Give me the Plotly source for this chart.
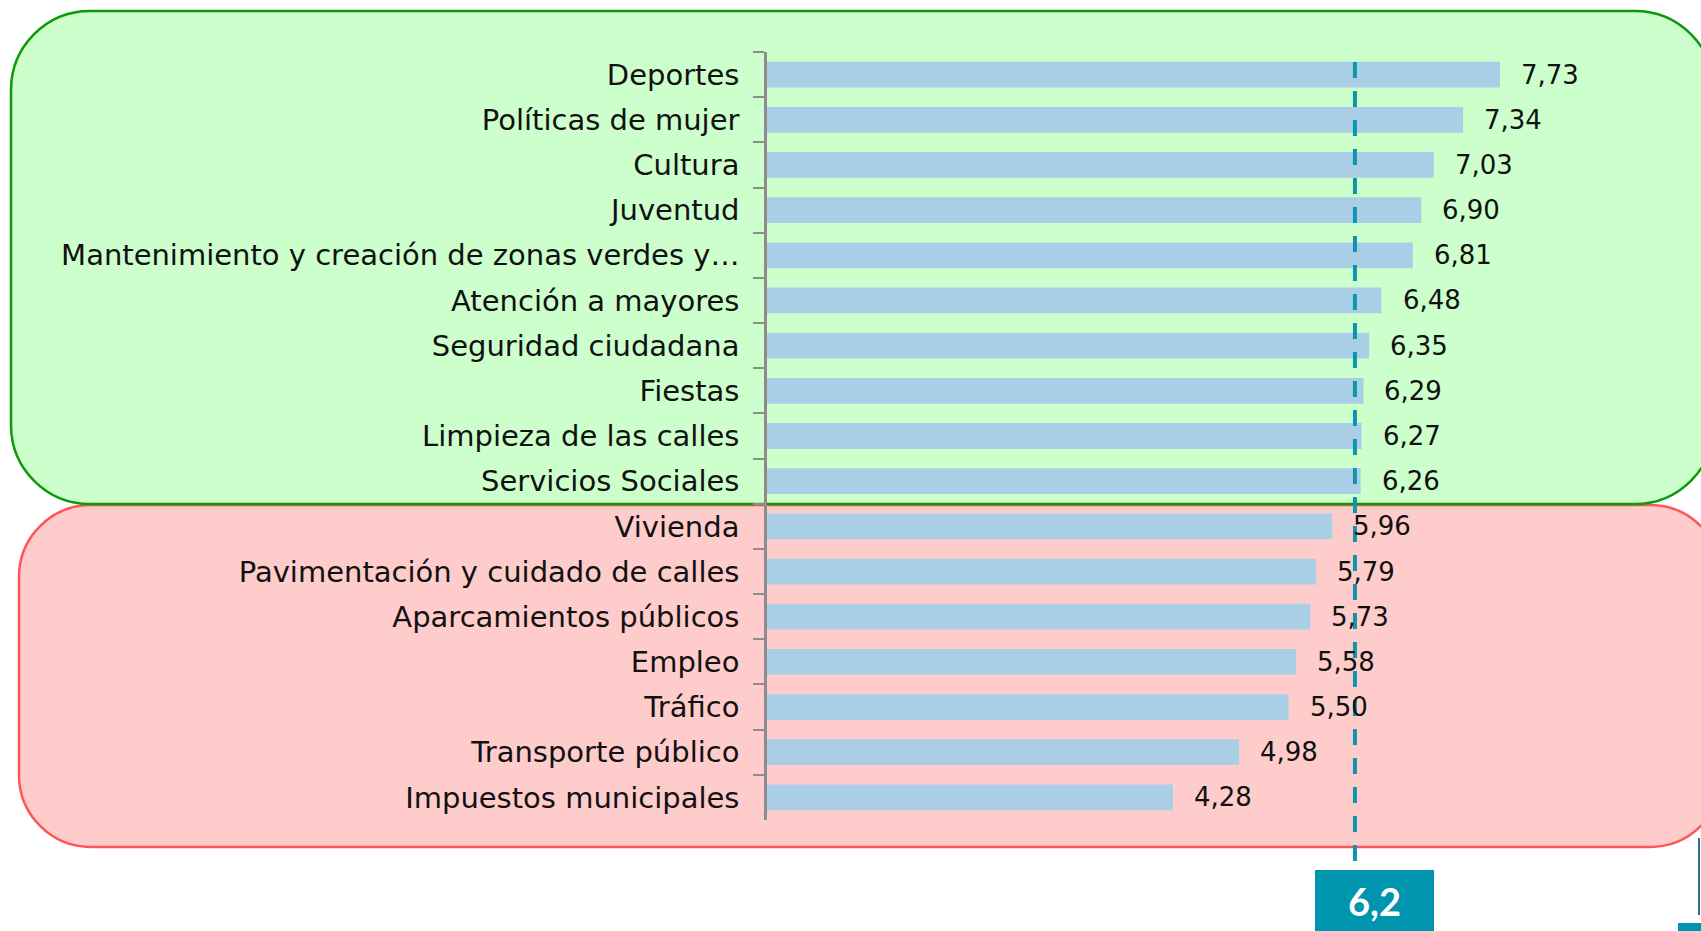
import plotly.graph_objects as go

W, H = 1701, 931
OFF = 0  # body margin removed by post_script below

categories = [
    "Deportes", "Políticas de mujer", "Cultura", "Juventud",
    "Mantenimiento y creación de zonas verdes y…", "Atención a mayores",
    "Seguridad ciudadana", "Fiestas", "Limpieza de las calles",
    "Servicios Sociales", "Vivienda", "Pavimentación y cuidado de calles",
    "Aparcamientos públicos", "Empleo", "Tráfico", "Transporte público",
    "Impuestos municipales",
]
values = [7.73, 7.34, 7.03, 6.90, 6.81, 6.48, 6.35, 6.29, 6.27, 6.26,
          5.96, 5.79, 5.73, 5.58, 5.50, 4.98, 4.28]
value_labels = [f"{v:.2f}".replace(".", ",") for v in values]
average = 6.2
average_label = "6,2"

# pixel geometry (reference page pixels)
AX_X0 = 767          # x pixel of value 0
PX_PER_UNIT = 94.83
Y_TOP, Y_BOT = 52, 820


def px(x):
    return (x - OFF) / W


def py(y):
    return 1 - (y - OFF) / H


def pt(x, y):
    return f"{px(x):.5f},{py(y):.5f}"


def rrect(x0, y0, x1, y1, r):
    k = 0.5523 * r
    return (
        f"M{pt(x0 + r, y0)} L{pt(x1 - r, y0)} "
        f"C{pt(x1 - r + k, y0)} {pt(x1, y0 + r - k)} {pt(x1, y0 + r)} "
        f"L{pt(x1, y1 - r)} "
        f"C{pt(x1, y1 - r + k)} {pt(x1 - r + k, y1)} {pt(x1 - r, y1)} "
        f"L{pt(x0 + r, y1)} "
        f"C{pt(x0 + r - k, y1)} {pt(x0, y1 - r + k)} {pt(x0, y1 - r)} "
        f"L{pt(x0, y0 + r)} "
        f"C{pt(x0, y0 + r - k)} {pt(x0 + r - k, y0)} {pt(x0 + r, y0)} Z"
    )


fig = go.Figure()
fig.add_trace(go.Bar(
    x=values, y=categories, orientation="h",
    marker=dict(color="#A9CEE6", line=dict(width=0)),
    width=0.57, hoverinfo="skip",
))

shapes = [
    dict(type="path", xref="paper", yref="paper", layer="below",
         path=rrect(19, 505, 1722, 847, 72),
         fillcolor="#FFCCCC", line=dict(color="#FF5555", width=2.5)),
    dict(type="path", xref="paper", yref="paper", layer="below",
         path=rrect(11, 11, 1714, 504, 79),
         fillcolor="#CCFFCC", line=dict(color="#0A9A0A", width=2.5)),
    dict(type="line", xref="x", yref="paper",
         x0=average, x1=average, y0=py(62), y1=py(863),
         line=dict(color="#0E95AE", width=4, dash="16px,13px")),
    dict(type="rect", xref="paper", yref="paper",
         x0=px(1315), x1=px(1434), y0=py(870), y1=py(945),
         fillcolor="#0095AF", line=dict(width=0)),
    dict(type="line", xref="paper", yref="paper",
         x0=px(1699), x1=px(1699), y0=py(838), y1=py(915),
         line=dict(color="#2A6F8F", width=2)),
    dict(type="rect", xref="paper", yref="paper",
         x0=px(1678), x1=px(1712), y0=py(923), y1=py(945),
         fillcolor="#0095AF", line=dict(width=0)),
]

annotations = [
    dict(x=v, y=c, xref="x", yref="y", text=t, showarrow=False,
         xanchor="left", yanchor="middle", xshift=19,
         font=dict(family="DejaVu Sans", size=26, color="#111111"))
    for v, c, t in zip(values, categories, value_labels)
]
annotations.append(dict(
    x=px(1374.5), y=py(901), xref="paper", yref="paper",
    text=f"<b>{average_label}</b>", showarrow=False,
    xanchor="center", yanchor="middle",
    font=dict(family="Lato", size=38, color="white"),
))

fig.update_layout(
    width=W, height=H,
    margin=dict(l=0, r=0, t=0, b=0),
    paper_bgcolor="white", plot_bgcolor="rgba(0,0,0,0)",
    showlegend=False,
    shapes=shapes, annotations=annotations,
    xaxis=dict(domain=[px(AX_X0), 1],
               range=[0, (W + OFF - AX_X0) / PX_PER_UNIT],
               visible=False, showgrid=False, zeroline=False),
    yaxis=dict(
        domain=[py(Y_BOT), py(Y_TOP)],
        categoryorder="array", categoryarray=categories,
        range=[len(categories) - 0.5, -0.5],
        showline=True, linecolor="#8C8C8C", linewidth=2.5,
        ticks="outside", tickson="boundaries", ticklen=11,
        tickwidth=2, tickcolor="#8C8C8C",
        ticklabelstandoff=19,
        tickfont=dict(family="DejaVu Sans", size=29, color="#111111"),
        showgrid=False, zeroline=False,
    ),
)

fig.write_html(
    "out.html",
    config={"displayModeBar": False},
    post_script="document.body.style.margin='0';"
                "document.body.style.overflow='hidden';",
)
